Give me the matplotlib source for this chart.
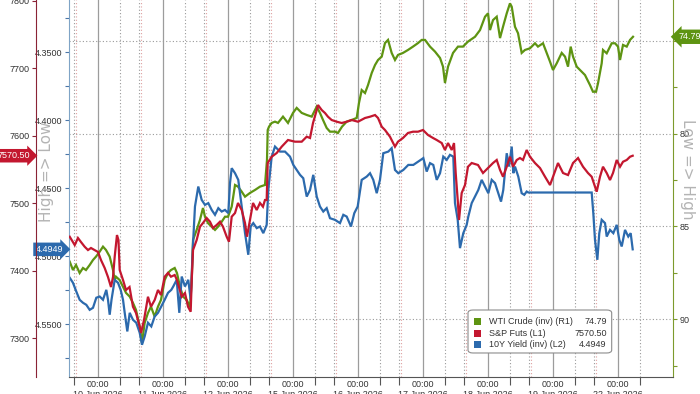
import matplotlib
matplotlib.use("Agg")
import matplotlib.pyplot as plt
import matplotlib.transforms as mtransforms
from matplotlib.patches import FancyBboxPatch, Rectangle
from matplotlib.ticker import FixedLocator, FormatStrFormatter, MultipleLocator

plt.rcParams['font.family'] = ['Liberation Sans', 'DejaVu Sans']

# ==========================================
# DATA (time = trading days since 10 Jun 00:00)
# ==========================================
day_labels = ['10 Jun 2026', '11 Jun 2026', '12 Jun 2026', '15 Jun 2026', '16 Jun 2026',
              '17 Jun 2026', '18 Jun 2026', '19 Jun 2026', '22 Jun 2026']

spx_t = [-0.435, -0.358, -0.308, -0.262, -0.205, -0.154, -0.108, -0.054, 0.0, 0.046,
         0.103, 0.154, 0.2, 0.231, 0.257, 0.292, 0.315, 0.334, 0.385, 0.431,
         0.485, 0.538, 0.585, 0.642, 0.662, 0.708, 0.769, 0.815, 0.872, 0.923,
         0.969, 1.026, 1.077, 1.123, 1.18, 1.215, 1.288, 1.338, 1.385, 1.426,
         1.442, 1.462, 1.518, 1.569, 1.615, 1.672, 1.723, 1.769, 1.826, 1.877,
         1.923, 1.98, 2.015, 2.057, 2.108, 2.154, 2.211, 2.262, 2.292, 2.338,
         2.385, 2.442, 2.492, 2.538, 2.569, 2.595, 2.611, 2.672, 2.749, 2.826,
         2.923, 3.031, 3.134, 3.211, 3.262, 3.308, 3.365, 3.385, 3.442, 3.492,
         3.538, 3.595, 3.672, 3.749, 3.826, 3.903, 4.0, 4.108, 4.185, 4.262,
         4.308, 4.365, 4.415, 4.492, 4.569, 4.615, 4.692, 4.769, 4.846, 4.923,
         5.0, 5.077, 5.154, 5.211, 5.288, 5.338, 5.385, 5.442, 5.477, 5.503,
         5.534, 5.554, 5.595, 5.646, 5.692, 5.749, 5.846, 5.923, 6.0, 6.077,
         6.134, 6.185, 6.231, 6.288, 6.338, 6.385, 6.442, 6.492, 6.538, 6.595,
         6.646, 6.723, 6.8, 6.877, 6.954, 7.0, 7.077, 7.154, 7.231, 7.308,
         7.385, 7.462, 7.538, 7.595, 7.646, 7.672, 7.723, 7.769, 7.826, 7.877,
         7.923, 7.98, 8.031, 8.077, 8.134, 8.185, 8.226]
spx_v = [7450.5, 7438.2, 7448.6, 7442.7, 7435.7, 7430.8, 7433.8, 7430.8, 7427.9, 7416.0,
         7404.2, 7390.8, 7376.0, 7390.8, 7420.9, 7453.0, 7445.6, 7401.2, 7386.4, 7371.6,
         7376.0, 7346.8, 7337.5, 7317.2, 7307.9, 7327.1, 7361.6, 7346.8, 7356.8, 7371.6,
         7364.2, 7391.3, 7396.8, 7391.3, 7393.8, 7386.4, 7361.6, 7367.1, 7346.8, 7339.4,
         7386.4, 7430.8, 7445.6, 7465.3, 7470.8, 7478.2, 7472.8, 7463.4, 7467.9, 7472.8,
         7465.3, 7450.5, 7443.1, 7480.2, 7485.6, 7500.5, 7490.1, 7470.8, 7450.5, 7475.3,
         7500.5, 7490.1, 7500.5, 7495.0, 7504.9, 7504.9, 7559.7, 7569.0, 7574.5, 7583.9,
         7593.8, 7591.3, 7591.3, 7598.7, 7596.8, 7619.0, 7638.2, 7645.6, 7638.2, 7633.8,
         7628.3, 7623.4, 7620.9, 7619.0, 7620.9, 7623.4, 7620.9, 7626.4, 7628.3, 7630.8,
         7626.4, 7613.5, 7608.6, 7598.7, 7583.9, 7591.3, 7596.8, 7604.2, 7606.1, 7606.1,
         7608.6, 7601.2, 7596.8, 7593.8, 7589.3, 7579.0, 7589.3, 7579.0, 7589.3, 7544.9,
         7504.9, 7475.3, 7515.3, 7527.1, 7554.2, 7559.7, 7556.8, 7544.9, 7552.3, 7559.7,
         7564.2, 7549.4, 7539.4, 7554.2, 7569.0, 7554.2, 7564.2, 7567.1, 7564.2, 7579.0,
         7569.0, 7559.7, 7552.3, 7539.4, 7527.1, 7539.4, 7559.7, 7544.9, 7541.9, 7559.7,
         7567.1, 7554.2, 7544.9, 7539.4, 7524.6, 7517.2, 7539.4, 7554.2, 7544.9, 7534.5,
         7544.9, 7564.2, 7554.2, 7561.6, 7564.2, 7569.0, 7570.5]

wti_t = [-0.435, -0.385, -0.338, -0.282, -0.231, -0.185, -0.128, -0.077, -0.031, 0.026,
         0.077, 0.123, 0.18, 0.231, 0.257, 0.277, 0.334, 0.385, 0.431, 0.488,
         0.538, 0.585, 0.642, 0.677, 0.718, 0.769, 0.815, 0.872, 0.923, 0.969,
         1.026, 1.077, 1.123, 1.18, 1.215, 1.262, 1.308, 1.365, 1.415, 1.442,
         1.462, 1.518, 1.569, 1.615, 1.646, 1.692, 1.749, 1.8, 1.846, 1.903,
         1.954, 2.0, 2.057, 2.108, 2.154, 2.211, 2.262, 2.338, 2.415, 2.492,
         2.569, 2.6, 2.611, 2.631, 2.672, 2.723, 2.769, 2.846, 2.923, 3.0,
         3.057, 3.134, 3.211, 3.288, 3.365, 3.415, 3.462, 3.518, 3.569, 3.646,
         3.692, 3.754, 3.826, 3.903, 3.98, 4.015, 4.057, 4.108, 4.154, 4.211,
         4.262, 4.308, 4.365, 4.415, 4.462, 4.518, 4.569, 4.615, 4.692, 4.769,
         4.846, 4.923, 4.98, 5.031, 5.108, 5.185, 5.262, 5.308, 5.338, 5.385,
         5.462, 5.538, 5.615, 5.692, 5.8, 5.877, 5.954, 6.0, 6.031, 6.077,
         6.134, 6.185, 6.231, 6.288, 6.338, 6.365, 6.415, 6.462, 6.518, 6.569,
         6.646, 6.723, 6.769, 6.846, 6.903, 6.954, 7.0, 7.057, 7.134, 7.185,
         7.231, 7.272, 7.308, 7.365, 7.415, 7.492, 7.569, 7.615, 7.662, 7.692,
         7.749, 7.769, 7.826, 7.903, 7.954, 8.0, 8.031, 8.077, 8.134, 8.185,
         8.231]
wti_v = [86.90, 87.35, 87.08, 87.51, 87.24, 87.35, 87.08, 86.81, 86.63, 86.36,
         86.09, 86.27, 86.63, 87.35, 87.89, 87.71, 87.89, 88.25, 88.58, 88.78,
         89.12, 89.50, 90.40, 91.28, 90.20, 89.66, 89.32, 89.86, 89.32, 88.96,
         87.89, 87.51, 87.35, 87.24, 87.51, 88.25, 88.78, 88.96, 89.32, 87.89,
         85.73, 85.19, 84.65, 84.01, 84.48, 84.82, 85.02, 85.19, 85.02, 84.75,
         84.48, 84.48, 83.94, 82.77, 82.86, 83.13, 83.40, 83.20, 83.04, 82.86,
         82.77, 81.42, 79.81, 79.63, 79.43, 79.36, 79.43, 79.09, 79.43, 78.89,
         78.62, 78.89, 79.00, 79.09, 78.55, 78.89, 79.27, 79.70, 79.90, 79.90,
         79.97, 79.63, 79.36, 79.27, 79.16, 78.36, 77.66, 77.82, 77.39, 76.74,
         76.31, 76.04, 75.86, 75.13, 74.96, 75.66, 76.04, 75.77, 75.66, 75.50,
         75.32, 75.13, 74.96, 74.96, 75.32, 75.59, 75.93, 76.40, 77.28, 76.40,
         75.66, 75.32, 75.32, 75.05, 74.79, 74.43, 73.71, 73.53, 74.43, 73.89,
         73.71, 74.86, 74.25, 73.53, 72.99, 73.17, 74.25, 74.60, 75.66, 75.50,
         75.41, 75.14, 75.32, 75.14, 75.66, 76.13, 76.58, 76.22, 75.66, 75.86,
         76.40, 75.32, 75.86, 76.40, 76.58, 76.85, 77.39, 77.75, 77.75, 77.30,
         76.22, 75.50, 75.68, 75.14, 75.14, 75.32, 76.04, 75.23, 75.32, 74.96,
         74.79]

y10_t = [-0.435, -0.385, -0.334, -0.282, -0.231, -0.18, -0.128, -0.077, -0.026, 0.026,
         0.077, 0.128, 0.154, 0.18, 0.208, 0.257, 0.308, 0.349, 0.385, 0.411,
         0.451, 0.488, 0.538, 0.589, 0.642, 0.677, 0.718, 0.769, 0.82, 0.872,
         0.923, 0.974, 1.026, 1.077, 1.128, 1.158, 1.211, 1.251, 1.288, 1.338,
         1.389, 1.426, 1.457, 1.492, 1.543, 1.595, 1.646, 1.697, 1.749, 1.8,
         1.851, 1.903, 1.954, 2.005, 2.031, 2.057, 2.108, 2.158, 2.211, 2.262,
         2.312, 2.349, 2.389, 2.442, 2.492, 2.543, 2.595, 2.62, 2.672, 2.723,
         2.8, 2.877, 2.954, 3.005, 3.057, 3.108, 3.158, 3.211, 3.262, 3.312,
         3.365, 3.415, 3.466, 3.518, 3.569, 3.646, 3.723, 3.774, 3.826, 3.892,
         3.943, 3.995, 4.057, 4.134, 4.185, 4.235, 4.288, 4.338, 4.389, 4.466,
         4.518, 4.569, 4.62, 4.697, 4.774, 4.851, 4.928, 5.005, 5.057, 5.108,
         5.158, 5.211, 5.262, 5.312, 5.365, 5.415, 5.466, 5.492, 5.534, 5.569,
         5.62, 5.672, 5.697, 5.749, 5.8, 5.851, 5.903, 5.954, 6.005, 6.057,
         6.108, 6.158, 6.2, 6.235, 6.288, 6.323, 6.365, 6.389, 6.415, 6.466,
         6.518, 6.558, 6.595, 6.62, 7.595, 7.62, 7.646, 7.682, 7.712, 7.749,
         7.8, 7.826, 7.877, 7.928, 7.98, 8.02, 8.057, 8.108, 8.158, 8.195,
         8.226]
y10_v = [4.5158, 4.5195, 4.5259, 4.5320, 4.5342, 4.5357, 4.5394, 4.5379, 4.5305, 4.5296,
         4.5320, 4.5247, 4.5320, 4.5430, 4.5320, 4.5173, 4.5195, 4.5247, 4.5320, 4.5416,
         4.5553, 4.5416, 4.5467, 4.5489, 4.5563, 4.5651, 4.5590, 4.5489, 4.5516, 4.5443,
         4.5416, 4.5369, 4.5320, 4.5269, 4.5247, 4.5222, 4.5173, 4.5416, 4.5149, 4.5222,
         4.5173, 4.5320, 4.4953, 4.4634, 4.4487, 4.4585, 4.4622, 4.4609, 4.4659, 4.4695,
         4.4646, 4.4671, 4.4659, 4.4683, 4.4462, 4.4352, 4.4389, 4.4438, 4.4634, 4.4830,
         4.4989, 4.4781, 4.4756, 4.4793, 4.4781, 4.4830, 4.4769, 4.4512, 4.4267, 4.4193,
         4.4230, 4.4230, 4.4267, 4.4328, 4.4365, 4.4401, 4.4426, 4.4561, 4.4512, 4.4401,
         4.4561, 4.4634, 4.4671, 4.4646, 4.4720, 4.4732, 4.4756, 4.4695, 4.4708, 4.4781,
         4.4683, 4.4634, 4.4438, 4.4414, 4.4389, 4.4438, 4.4536, 4.4438, 4.4242, 4.4230,
         4.4205, 4.4365, 4.4389, 4.4365, 4.4328, 4.4328, 4.4303, 4.4278, 4.4377, 4.4315,
         4.4328, 4.4438, 4.4389, 4.4267, 4.4291, 4.4254, 4.4267, 4.4609, 4.4732, 4.4940,
         4.4830, 4.4769, 4.4708, 4.4609, 4.4561, 4.4512, 4.4438, 4.4487, 4.4536, 4.4438,
         4.4462, 4.4536, 4.4598, 4.4512, 4.4242, 4.4340, 4.4193, 4.4389, 4.4340, 4.4414,
         4.4536, 4.4548, 4.4524, 4.4531, 4.4531, 4.4683, 4.4879, 4.5026, 4.4830, 4.4732,
         4.4756, 4.4855, 4.4806, 4.4830, 4.4769, 4.4879, 4.4928, 4.4806, 4.4855, 4.4830,
         4.4949]

spx_ticks = [7300, 7400, 7500, 7600, 7700, 7800]
y10_ticks = [4.35, 4.40, 4.45, 4.50, 4.55]
wti_ticks = [75, 80, 85, 90]

GREEN = '#5e9412'
RED = '#c3172f'
BLUE = '#2c6aad'
GRID = '#9a9a9a'
TXT = '#333333'

# ==========================================
# AXES
# ==========================================
fig = plt.figure(figsize=(7, 3.94), dpi=100)
fig.patch.set_facecolor('white')
ax = fig.add_axes([69 / 700, 17 / 394, 604 / 700, 377 / 394])
ax_y = ax.twinx()
ax_w = ax.twinx()
ax_w.set_zorder(1)
ax_y.set_zorder(2)
ax.set_zorder(3)
for a in (ax, ax_y, ax_w):
    a.patch.set_visible(False)

ax.set_xlim(-0.446, 8.846)
ax.set_ylim(7242.7, 7801.2)
ax_y.set_ylim(4.5888, 4.3115)
ax_w.set_ylim(93.11, 72.81)

# S&P axis (outer left)
ax.spines['left'].set_position(('axes', -33 / 604))
ax.spines['left'].set_color('#8a2336')
ax.spines['top'].set_visible(False)
ax.spines['right'].set_visible(False)
ax.spines['bottom'].set_color('#555555')
ax.yaxis.set_major_locator(FixedLocator(spx_ticks))
ax.yaxis.set_major_formatter(FormatStrFormatter('%d'))
ax.tick_params(axis='y', length=3, width=0.8, color='#8a2336', pad=1.5,
               labelsize=6.5, labelcolor=TXT)

# 10Y axis (inner left, inverted)
for s in ('right', 'top', 'bottom'):
    ax_y.spines[s].set_visible(False)
ax_y.spines['left'].set_visible(True)
ax_y.spines['left'].set_position(('axes', 0))
ax_y.spines['left'].set_color('#7fa4c6')
ax_y.yaxis.tick_left()
ax_y.yaxis.set_major_locator(FixedLocator(y10_ticks))
ax_y.yaxis.set_minor_locator(MultipleLocator(0.025))
ax_y.yaxis.set_major_formatter(FormatStrFormatter('%.4f'))
ax_y.tick_params(axis='y', which='both', length=3, width=0.8, color='#4a76a8', pad=1.5,
                 labelsize=6.5, labelcolor=TXT)

# WTI axis (right, inverted)
for s in ('left', 'top', 'bottom'):
    ax_w.spines[s].set_visible(False)
ax_w.spines['right'].set_color('#7d9a2c')
ax_w.yaxis.set_major_locator(FixedLocator(wti_ticks))
ax_w.yaxis.set_minor_locator(MultipleLocator(2.5))
ax_w.yaxis.set_major_formatter(FormatStrFormatter('%d'))
ax_w.tick_params(axis='y', which='both', length=3, width=0.8, color='#7d9a2c', pad=2,
                 labelsize=6.5, labelcolor=TXT)

# x axis
ax.set_xticks(range(len(day_labels)))
ax.set_xticklabels(['00:00\n' + d for d in day_labels])
minor_x = [d + f for d in range(-1, 9) for f in (0.34, 0.63)]
ax.set_xticks([m for m in minor_x if -0.44 < m < 8.5], minor=True)
ax.tick_params(axis='x', which='major', length=0, pad=2, labelsize=6.5, labelcolor=TXT)
ax.tick_params(axis='x', which='minor', length=6, width=0.8, color='#555555')

# grid
for v in wti_ticks:
    ax_w.axhline(v, color=GRID, lw=0.8, ls=(0, (1, 2)), zorder=0)
for d in range(len(day_labels)):
    ax_w.axvline(d, color='#9c9c9c', lw=0.9, zorder=0)
for d in range(-1, 9):
    for f, c in ((0.34, GRID), (0.625, GRID), (0.665, '#e0a0a0')):
        if -0.44 < d + f < 8.5:
            ax_w.axvline(d + f, color=c, lw=0.8, ls=(0, (1, 2)), zorder=0)

# series
ax_w.plot(wti_t, wti_v, color=GREEN, lw=1.6, solid_joinstyle='miter')
ax_y.plot(y10_t, y10_v, color=BLUE, lw=1.6, solid_joinstyle='miter')
ax.plot(spx_t, spx_v, color=RED, lw=1.6, solid_joinstyle='miter')

# last-value tags
tr = mtransforms.blended_transform_factory(ax.transAxes, ax.transData)
ax.text(-0.0646, spx_v[-1], f'{spx_v[-1]:.2f}', transform=tr, ha='right', va='center',
        color='white', fontsize=6.5, clip_on=False, zorder=10,
        bbox=dict(boxstyle='rarrow,pad=0.25', fc=RED, ec='none'))
tr = mtransforms.blended_transform_factory(ax_y.transAxes, ax_y.transData)
ax_y.text(-0.0099, y10_v[-1], f'{y10_v[-1]:.4f}', transform=tr, ha='right', va='center',
          color='white', fontsize=6.5, clip_on=False, zorder=10,
          bbox=dict(boxstyle='rarrow,pad=0.25', fc=BLUE, ec='none'))
tr = mtransforms.blended_transform_factory(ax_w.transAxes, ax_w.transData)
ax_w.text(1.0095, wti_v[-1], f'{wti_v[-1]:.2f}', transform=tr, ha='left', va='center',
          color='white', fontsize=6.5, clip_on=False, zorder=10,
          bbox=dict(boxstyle='larrow,pad=0.3', fc=GREEN, ec='none'))

# axis direction labels
fig.text(47 / 700, 1 - 172 / 394, 'High => Low', rotation=90, ha='center', va='center',
         color='#b4b4b4', fontsize=11, family='DejaVu Sans')
fig.text(688 / 700, 1 - 169 / 394, 'Low => High', rotation=270, ha='center', va='center',
         color='#b4b4b4', fontsize=11, family='DejaVu Sans')

# legend
ax.add_patch(FancyBboxPatch((0.6606, 0.0637), 0.2379, 0.114, transform=ax.transAxes,
                            boxstyle='round,pad=0,rounding_size=0.008', fc='white',
                            ec='#8c8c8c', lw=0.8, zorder=20, clip_on=False))
leg_rows = [('WTI Crude (inv) (R1)', f'{wti_v[-1]:.2f}', GREEN),
            ('S&P Futs (L1)', f'{spx_v[-1]:.2f}', RED),
            ('10Y Yield (inv) (L2)', f'{y10_v[-1]:.4f}', BLUE)]
for (lab, val, col), yy in zip(leg_rows, (0.1467, 0.1141, 0.0875)):
    ax.add_patch(Rectangle((0.6705, yy - 0.0093), 0.0116, 0.0186, transform=ax.transAxes,
                           fc=col, ec='none', zorder=21))
    ax.text(0.695, yy, lab, transform=ax.transAxes, ha='left', va='center',
            fontsize=6.5, color=TXT, zorder=21)
    ax.text(0.890, yy, val, transform=ax.transAxes, ha='right', va='center',
            fontsize=6.5, color=TXT, zorder=21)

fig.savefig('out.png', dpi=100)
